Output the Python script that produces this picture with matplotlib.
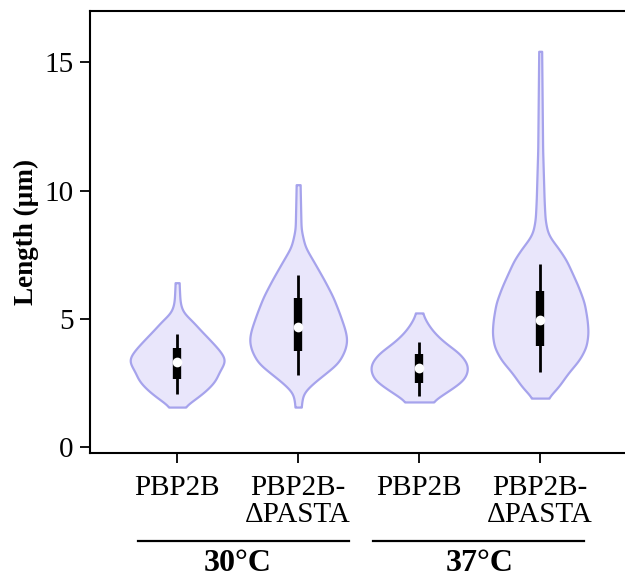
import numpy as np
import matplotlib
matplotlib.use("Agg")
import matplotlib.pyplot as plt
import matplotlib.transforms as mtransforms

plt.rcParams['font.family'] = ['Liberation Serif', 'DejaVu Serif']

# strains and growth temperatures
strains = ['PBP2B', 'PBP2B-\n\u0394PASTA', 'PBP2B', 'PBP2B-\n\u0394PASTA']
temps = ['30\u00b0C', '37\u00b0C']

# violin outlines: length (um) and relative density
v1_len = [6.41, 5.62, 5.23, 4.96, 4.57, 4.30, 3.79, 3.40, 3.12, 2.89, 2.62, 2.23, 1.84, 1.56]
v1_den = [0.04, 0.06, 0.12, 0.29, 0.47, 0.61, 0.86, 1.00, 0.92, 0.84, 0.80, 0.61, 0.35, 0.12]
v2_len = [10.23, 8.48, 7.81, 7.19, 6.52, 5.86, 5.23, 4.57, 4.18, 3.79, 3.28, 2.89, 2.50, 2.11, 1.56]
v2_den = [0.04, 0.06, 0.14, 0.33, 0.53, 0.71, 0.84, 0.96, 1.00, 0.96, 0.82, 0.57, 0.31, 0.10, 0.06]
v3_len = [5.23, 4.84, 4.45, 4.06, 3.67, 3.28, 3.01, 2.62, 2.23, 1.84, 1.76]
v3_den = [0.06, 0.16, 0.31, 0.53, 0.82, 0.98, 1.00, 0.92, 0.63, 0.31, 0.24]
v4_len = [15.43, 11.60, 9.65, 8.87, 8.36, 8.09, 7.81, 7.30, 6.80, 6.25, 5.63, 4.96, 4.45, 3.91, 3.40, 2.89, 2.34, 2.00, 1.91]
v4_den = [0.03, 0.05, 0.08, 0.10, 0.15, 0.23, 0.35, 0.53, 0.65, 0.78, 0.90, 0.96, 0.98, 0.94, 0.80, 0.57, 0.37, 0.20, 0.14]

# box statistics: whisker low, q1, median, q3, whisker high
whis_lo = [2.07, 2.81, 1.99, 2.93]
q1 = [2.66, 3.75, 2.50, 3.95]
median = [3.32, 4.69, 3.09, 4.96]
q3 = [3.87, 5.82, 3.63, 6.09]
whis_hi = [4.41, 6.72, 4.10, 7.15]

fill_c = '#e9e6fb'
edge_c = '#a6a3ec'


def smooth_outline(yy, dd, sigma=0.17):
    # resample the outline and round off the corners
    order = np.argsort(yy)
    yy = np.array(yy)[order]
    dd = np.array(dd)[order]
    yf = np.linspace(yy[0], yy[-1], 600)
    df = np.interp(yf, yy, dd)
    step = yf[1] - yf[0]
    k = np.arange(-int(3 * sigma / step), int(3 * sigma / step) + 1) * step
    ker = np.exp(-0.5 * (k / sigma) ** 2)
    ker /= ker.sum()
    n = len(k) // 2
    padded = np.concatenate([np.full(n, df[0]), df, np.full(n, df[-1])])
    return yf, np.convolve(padded, ker, mode='valid')


fig = plt.figure(figsize=(6.25, 5.77), dpi=100)
ax = fig.add_axes([90 / 625, 124 / 577, 547 / 625, 442 / 577])

profiles = [(v1_len, v1_den), (v2_len, v2_den), (v3_len, v3_den), (v4_len, v4_den)]
for i, (yy, dd) in enumerate(profiles):
    yf, df = smooth_outline(yy, dd)
    half = df * 0.405
    ax.fill_betweenx(yf, i - half, i + half, facecolor=fill_c,
                     edgecolor=edge_c, linewidth=1.6, zorder=1)

pos = np.arange(4)
ax.vlines(pos, whis_lo, whis_hi, color='black', linewidth=2.0, zorder=2)
ax.vlines(pos, q1, q3, color='black', linewidth=6.0, zorder=3)
ax.plot(pos, median, 'o', color='white', markersize=7, markeredgewidth=0, zorder=4)

ax.set_xlim(-0.72, 3.8)
ax.set_ylim(-0.23, 17.0)
ax.set_yticks([0, 5, 10, 15])
ax.set_xticks(pos)
ax.set_xticklabels(strains, fontsize=21, linespacing=1.05)
ax.tick_params(axis='y', labelsize=21, length=7, width=1.3, pad=5)
ax.tick_params(axis='x', length=7, width=1.3, pad=9)
for s in ax.spines.values():
    s.set_linewidth(1.5)
ax.set_ylabel('Length (\u00b5m)', fontsize=19.5, fontweight='bold', labelpad=4)

# temperature groups under the strain labels
trans = mtransforms.blended_transform_factory(ax.transData, ax.transAxes)
spans = [(-0.32, 1.42), (1.62, 3.36)]
for (x0, x1), t, xc in zip(spans, temps, [0.5, 2.5]):
    ax.plot([x0, x1], [-0.199, -0.199], color='black', linewidth=1.6,
            transform=trans, clip_on=False)
    ax.text(xc, -0.249, t, transform=trans, ha='center', va='center',
            fontsize=23, fontweight='bold')

fig.savefig('out.png', dpi=100)
